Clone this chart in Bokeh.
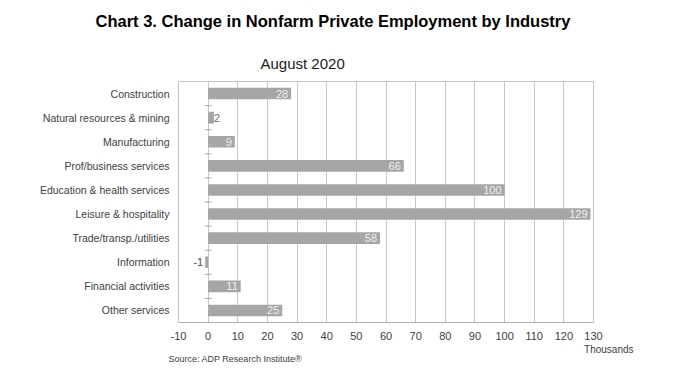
from bokeh.plotting import figure
from bokeh.models import Range1d, FixedTicker, Title, ColumnDataSource
from bokeh.core.properties import value
from bokeh.embed import file_html
from bokeh.resources import INLINE

categories = ["Construction", "Natural resources & mining", "Manufacturing",
              "Prof/business services", "Education & health services",
              "Leisure & hospitality", "Trade/transp./utilities", "Information",
              "Financial activities", "Other services"]
values = [28, 2, 9, 66, 100, 129, 58, -1, 11, 25]
x_ticks = list(range(-10, 131, 10))

FONT = "Liberation Sans"
n = len(categories)
ypos = [n - 1 - i for i in range(n)]

p = figure(width=680, height=375, output_backend="svg", toolbar_location=None,
           x_range=Range1d(x_ticks[0], x_ticks[-1]), y_range=Range1d(-0.5, n - 0.5),
           min_border_left=178, min_border_right=87, min_border_top=0,
           min_border_bottom=53, title=None)
p.background_fill_color = "white"
p.border_fill_color = "white"
p.outline_line_color = "#c4c4c4"

src = ColumnDataSource(dict(y=ypos, v=values, cat=categories))
p.hbar(y="y", left=0, right="v", height=0.48, source=src,
       fill_color="#a6a6a6", line_color=None)

# value labels
inside = [i for i, v in enumerate(values) if v >= 5]
pos_small = [i for i, v in enumerate(values) if 0 <= v < 5]
neg = [i for i, v in enumerate(values) if v < 0]
p.text(x=[values[i] for i in inside], y=[ypos[i] for i in inside],
       text=[str(values[i]) for i in inside], text_align="right",
       text_baseline="middle", x_offset=-3, text_color="#f0f0f0",
       text_font=value(FONT), text_font_size="11px")
p.text(x=[values[i] for i in pos_small], y=[ypos[i] for i in pos_small],
       text=[str(values[i]) for i in pos_small], text_align="left",
       text_baseline="middle", x_offset=0, text_color="#707070",
       text_font=value(FONT), text_font_size="11px")
p.text(x=[values[i] for i in neg], y=[ypos[i] for i in neg],
       text=[str(values[i]) for i in neg], text_align="right",
       text_baseline="middle", x_offset=-2, text_color="#505050",
       text_font=value(FONT), text_font_size="11px")

# small category-boundary ticks on the zero line
bounds = [k + 0.5 for k in range(n - 1)]
p.scatter(x=[0] * len(bounds), y=bounds, marker="dash", size=7,
          line_color="#a8a8a8", line_width=1)

# axes
p.xaxis.ticker = FixedTicker(ticks=x_ticks)
p.xaxis.major_label_overrides = {t: str(t) for t in x_ticks}
p.xaxis.major_tick_line_color = None
p.xaxis.major_tick_out = 0
p.xaxis.minor_tick_line_color = None
p.xaxis.axis_line_color = "#b0b0b0"
p.xaxis.major_label_text_font = FONT
p.xaxis.major_label_text_font_size = "11px"
p.xaxis.major_label_text_color = "#404040"
p.xaxis.major_label_standoff = 9

p.yaxis.ticker = FixedTicker(ticks=ypos)
p.yaxis.major_label_overrides = {ypos[i]: categories[i] for i in range(n)}
p.yaxis.major_tick_line_color = None
p.yaxis.major_tick_out = 0
p.yaxis.minor_tick_line_color = None
p.yaxis.axis_line_color = None
p.yaxis.major_label_text_font = FONT
p.yaxis.major_label_text_font_size = "10.5px"
p.yaxis.major_label_text_color = "#404040"
p.yaxis.major_label_standoff = 9

p.xgrid.ticker = FixedTicker(ticks=x_ticks)
p.xgrid.grid_line_color = "#c8c8c8"
p.ygrid.grid_line_color = None

# titles
sub = Title(text="August 2020", align="left", offset=82, text_font=FONT,
            text_font_size="15px", text_font_style="normal", text_color="#1a1a1a",
            standoff=19)
p.add_layout(sub, "above")
main = Title(text="Chart 3. Change in Nonfarm Private Employment by Industry",
             align="left", offset=-83, text_font=FONT, text_font_size="16.5px",
             text_font_style="bold", text_color="#000000", standoff=23,
             vertical_align="top", text_line_height=0.75)
p.add_layout(main, "above")

thou = Title(text="Thousands", align="right", offset=-40, text_font=FONT,
             text_font_size="10px", text_font_style="normal", text_color="#404040",
             standoff=-2, text_line_height=0.9)
p.add_layout(thou, "below")
srct = Title(text="Source: ADP Research Institute\u00ae", align="left", offset=-10,
             text_font=FONT, text_font_size="9px", text_font_style="normal",
             text_color="#404040", standoff=-3, text_line_height=0.9)
p.add_layout(srct, "below")

open("out.html", "w").write(file_html(p, INLINE))
